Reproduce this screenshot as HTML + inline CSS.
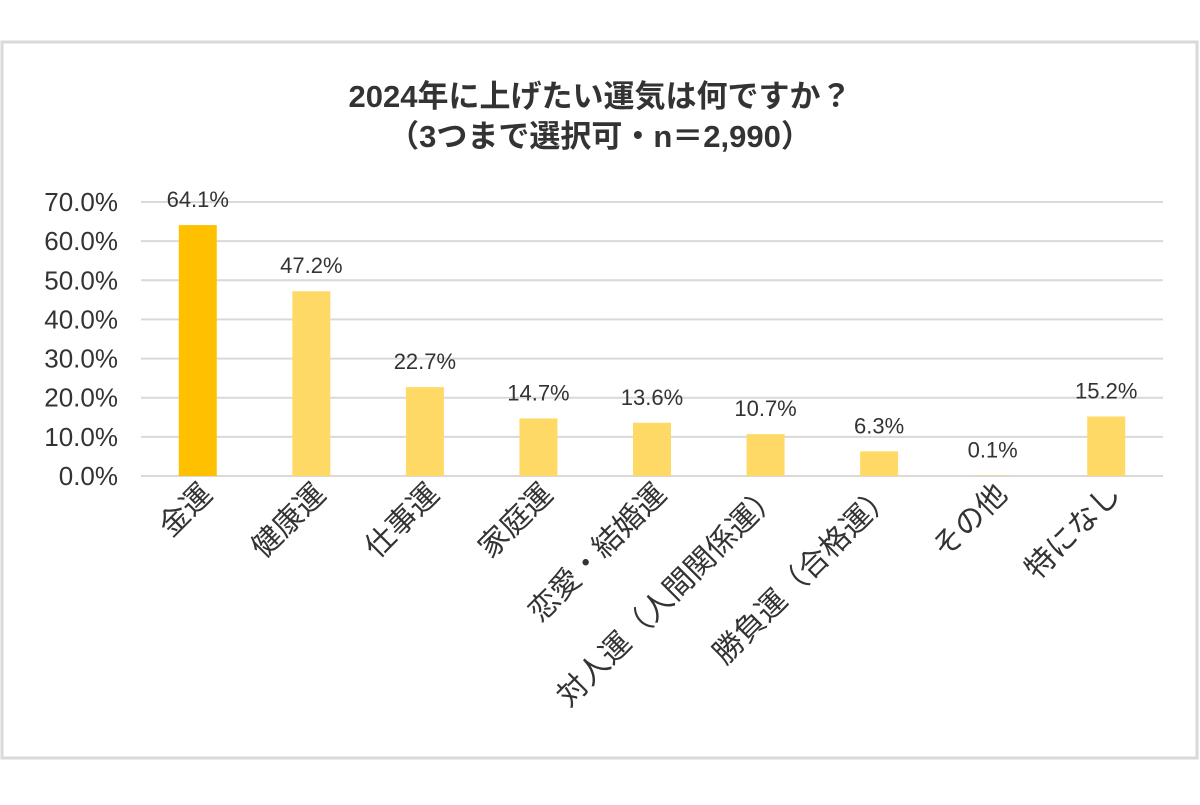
<!DOCTYPE html>
<html><head><meta charset="utf-8"><style>
body{margin:0;background:#fff;width:1200px;height:800px;overflow:hidden}
svg text{font-family:"Liberation Sans","Noto Sans CJK JP",sans-serif;fill:#333}
</style></head><body>
<svg id="chart" width="1200" height="800">
<rect x="2" y="42" width="1195" height="716" fill="#fff" stroke="#d9d9d9" stroke-width="3"/>
<text x="600" y="107" font-size="31" font-weight="bold" fill="#404040" text-anchor="middle">2024年に上げたい運気は何ですか？</text>
<text x="600" y="147" font-size="31" font-weight="bold" text-anchor="middle">（3つまで選択可・n＝2,990）</text>
<g id="grid"></g><g id="bars"></g><g id="labels"></g>
</svg>
<script>
const categories=["金運","健康運","仕事運","家庭運","恋愛・結婚運","対人運（人間関係運）","勝負運（合格運）","その他","特になし"];
const values=[64.1,47.2,22.7,14.7,13.6,10.7,6.3,0.1,15.2];
const tickValues=[0,10,20,30,40,50,60,70];
const tickLabels=["0.0%","10.0%","20.0%","30.0%","40.0%","50.0%","60.0%","70.0%"];
const NS="http://www.w3.org/2000/svg";
const x0=141,x1=1163,y0=476,y70=202;
const y=v=>y0-(y0-y70)*v/70;
const band=(x1-x0)/categories.length;
const xc=i=>x0+band*(i+0.5);
function mk(t,a,p){const e=document.createElementNS(NS,t);for(const k in a)e.setAttribute(k,a[k]);p.appendChild(e);return e;}
const g=document.getElementById('grid'),b=document.getElementById('bars'),l=document.getElementById('labels');
tickValues.forEach((v,i)=>{
 const ln=mk('line',{x1:x0,x2:x1,y1:y(v),y2:y(v),stroke:'#d9d9d9','stroke-width':2},g);
 
 
 const t=mk('text',{x:118,y:y(v)+9,'font-size':26,'text-anchor':'end'},g);
 t.textContent=tickLabels[i];
 
 
});
values.forEach((v,i)=>{
 const r=mk('rect',{x:xc(i)-19,y:y(v),width:38,height:y0-y(v),fill:i===0?'#FFC000':'#FFD966'},b);
 
 
 const t=mk('text',{x:xc(i),y:y(v)-18,'font-size':22,'text-anchor':'middle'},l);
 t.textContent=v.toFixed(1)+'%';
 
 
 const c=mk('text',{x:0,y:0,'font-size':30,'text-anchor':'end',transform:`translate(${xc(i)+16},${y0+20}) rotate(-45)`},l);
 c.textContent=categories[i];
 
 
});
</script>
</body></html>
